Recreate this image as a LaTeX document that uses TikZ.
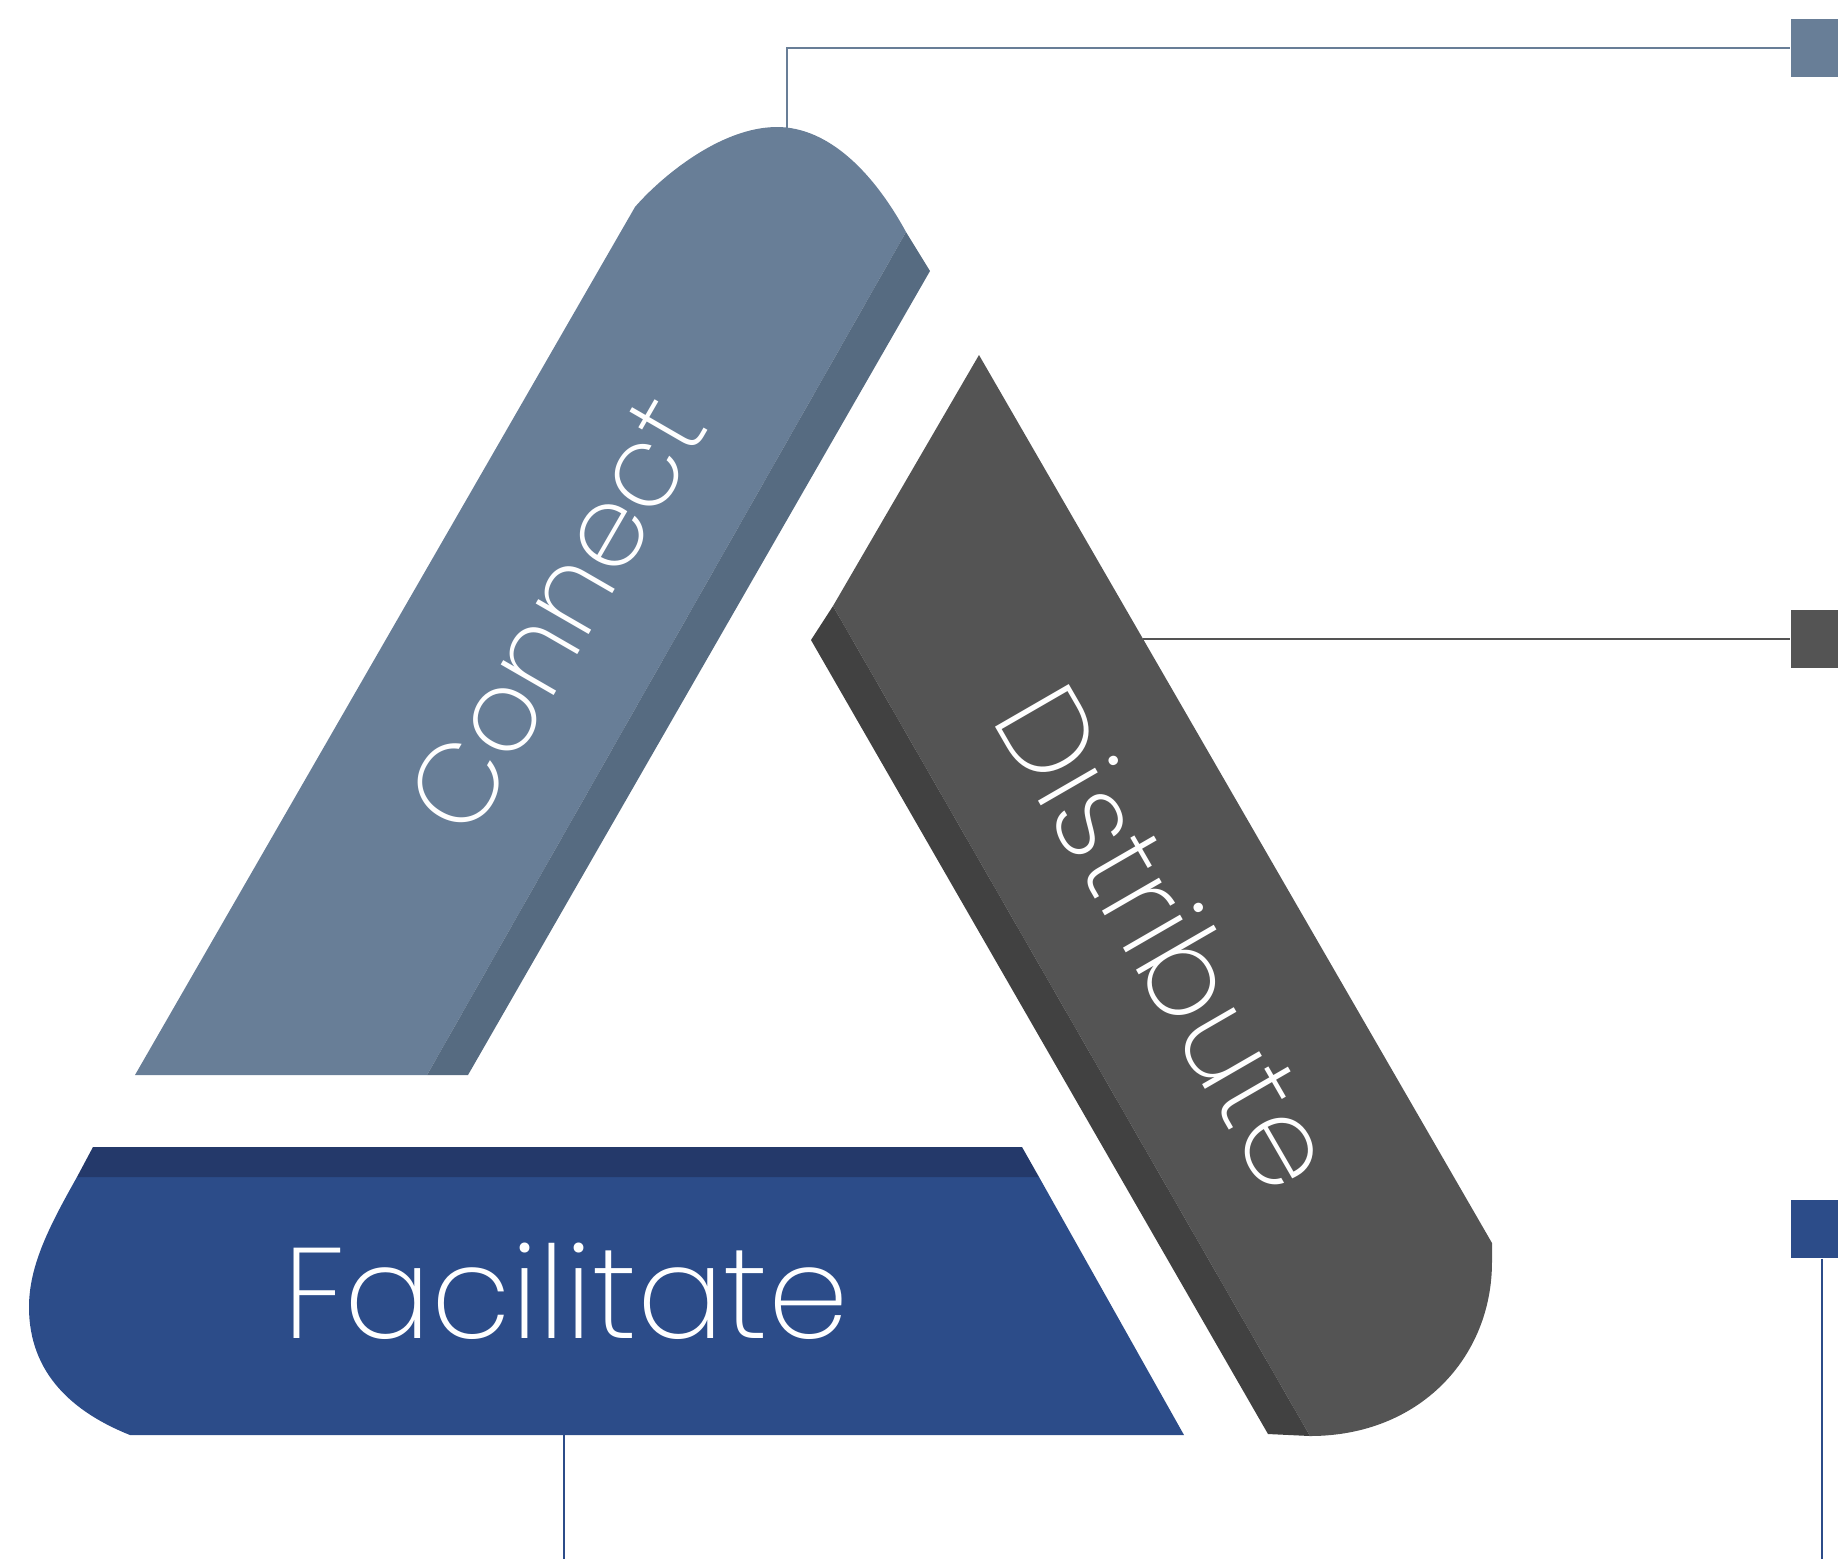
\documentclass[tikz,border=0pt]{standalone}
\usepackage{fontspec}
\usepackage{xcolor}
\newfontfamily\bandfont{Poppins ExtraLight}
\definecolor{connectcol}{HTML}{687E97}
\definecolor{connectdark}{HTML}{566B81}
\definecolor{distcol}{HTML}{545454}
\definecolor{distdark}{HTML}{414141}
\definecolor{facilcol}{HTML}{2C4C89}
\definecolor{facildark}{HTML}{24396A}

\begin{document}
\begin{tikzpicture}[x=0.01cm, y=-0.01cm,
	bandtext/.style={text=white, font=\bandfont\fontsize{36.6}{40}\selectfont, inner sep=0pt, anchor=base},
	marker/.style={inner sep=0pt, minimum width=0.62cm, minimum height=0.58cm},
	link/.style={line width=0.6pt}]
	\useasboundingbox (0,0) rectangle (1838,1559);
	\clip (0,0) rectangle (1838,1559);
	
	\fill[connectcol] (135,1075) -- (427,1075) -- (906,232) .. controls (875,175) and (830,127) .. (777,127) .. controls (720,127) and (660,178) .. (635,207) -- cycle;
	\fill[connectdark] (427,1075) -- (468,1075) -- (930,271) -- (906,232) -- cycle;
	
	\fill[distcol] (979,355) -- (1492,1243) -- (1492,1262) .. controls (1492,1357) and (1420,1436) .. (1310,1436) -- (833,606) -- cycle;
	\fill[distdark] (811,640) -- (833,606) -- (1310,1436) -- (1268,1434) -- cycle;
	
	\fill[facilcol] (77,1177) -- (1039,1177) -- (1184,1435) -- (130,1435) .. controls (75,1413) and (29,1375) .. (29,1307) .. controls (29,1265) and (50,1225) .. (77,1177) -- cycle;
	\fill[facildark] (93,1147) -- (1022,1147) -- (1039,1177) -- (77,1177) -- cycle;
	
	\node[bandtext, rotate=60, font=\bandfont\fontsize{32}{36}\selectfont] (connect) at (590,634) {Connect};
	\node[bandtext, rotate=-60, font=\bandfont\fontsize{34.5}{38}\selectfont] (distribute) at (1130,959) {Distribute};
	\node[bandtext] (facilitate) at (566,1338) {Facilitate};
	
	\node[marker, fill=connectcol] (sqA) at (1822,48) {};
	\node[marker, fill=distcol] (sqB) at (1822,639) {};
	\node[marker, fill=facilcol] (sqC) at (1822,1229) {};
	
	\coordinate (ctop) at (787,128);
	\coordinate (dside) at (1143,639);
	\coordinate (fbot) at (564,1435);
	\coordinate (fend) at (564,1559);
	\coordinate (cend) at (1822,1559);
	
	\draw[link, connectcol] (ctop) |- (sqA);
	\draw[link, distcol] (dside) -- (sqB);
	\draw[link, facilcol] (fbot) -- (fend);
	\draw[link, facilcol] (sqC) -- (cend);
\end{tikzpicture}
\end{document}
